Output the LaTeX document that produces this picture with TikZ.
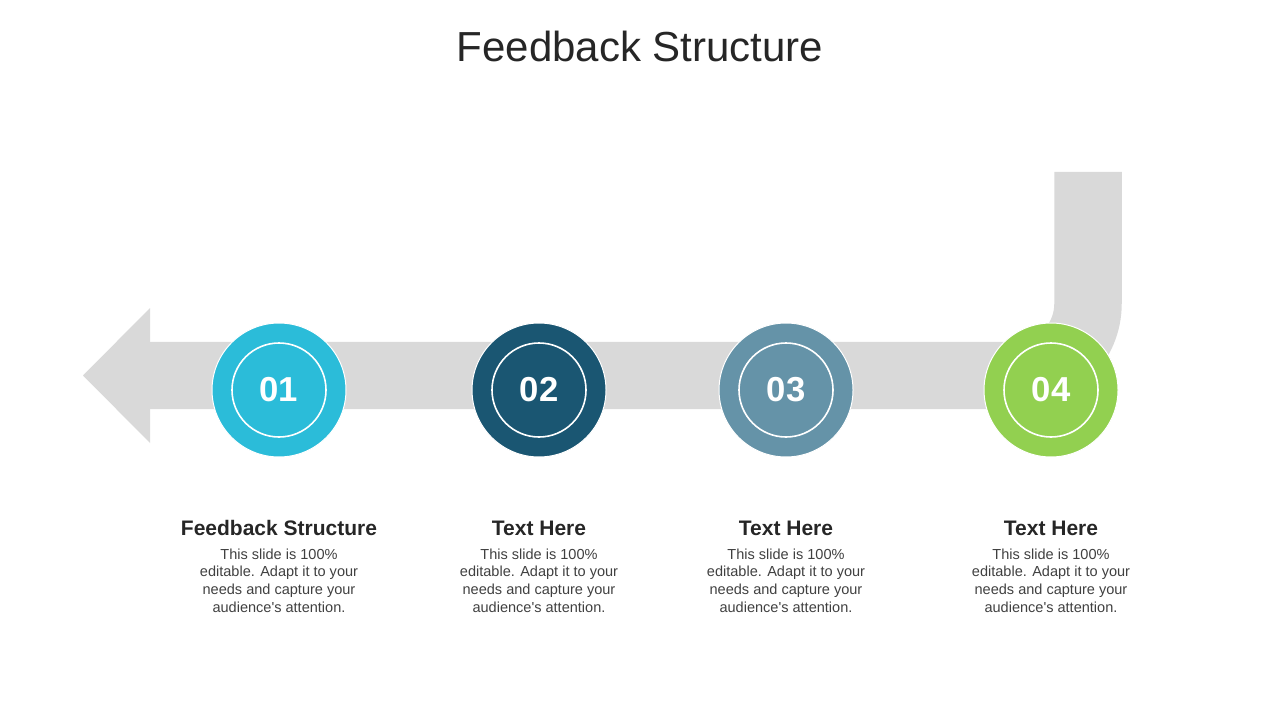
\documentclass[tikz,border=0pt]{standalone}
\usepackage{fontspec}
\setmainfont{Liberation Sans}
\usepackage{xcolor}
\usepackage{tikz}
\usetikzlibrary{calc}
\usetikzlibrary{positioning}

\definecolor{bandgray}{HTML}{D9D9D9}
\definecolor{headgray}{HTML}{262626}
\definecolor{bodygray}{HTML}{404040}
\definecolor{stepcyan}{HTML}{2BBCD9}
\definecolor{stepnavy}{HTML}{1A5672}
\definecolor{stepslate}{HTML}{6593A8}
\definecolor{steplime}{HTML}{92D050}

\begin{document}
\begin{tikzpicture}[x=0.75pt,y=-0.75pt,
	numcircle/.style={circle,minimum size=100.5pt,inner sep=0pt,draw=white,line width=0.75pt,text=white,font=\fontsize{26}{26}\selectfont\bfseries},
	numring/.style={circle,minimum size=70.5pt,inner sep=0pt,draw=white,line width=1.2pt},
	headtext/.style={text=headgray,font=\fontsize{15.75}{18}\selectfont\bfseries},
	bodytext/.style={text=bodygray,align=center,font=\fontsize{10.9}{13.3}\selectfont}]
	\useasboundingbox (0,0) rectangle (1280,720);
	\node[text=headgray,font=\fontsize{31.5}{36}\selectfont] (title) at (640,46) {Feedback Structure};
	\draw[bandgray,line width=50.6pt,rounded corners=54pt] (150,375.5) -- (1088,375.5) -- (1088,172);
	\fill[bandgray] (83,375.5) -- (150,308) -- (150,443) -- cycle;
	\node[numcircle,fill=stepcyan] (n1) at (279,390) {01};
	\node[numring] (r1) at (n1) {};
	\node[numcircle,fill=stepnavy] (n2) at (539,390) {02};
	\node[numring] (r2) at (n2) {};
	\node[numcircle,fill=stepslate] (n3) at (786,390) {03};
	\node[numring] (r3) at (n3) {};
	\node[numcircle,fill=steplime] (n4) at (1051,390) {04};
	\node[numring] (r4) at (n4) {};
	\node[headtext] (h1) at (279,528) {Feedback Structure};
	\node[bodytext] (b1) at (279,580.5) {This slide is 100\%\\editable. Adapt it to your\\needs and capture your\\audience\textquotesingle s attention.};
	\node[headtext] (h2) at (539,528) {Text Here};
	\node[bodytext] (b2) at (539,580.5) {This slide is 100\%\\editable. Adapt it to your\\needs and capture your\\audience\textquotesingle s attention.};
	\node[headtext] (h3) at (786,528) {Text Here};
	\node[bodytext] (b3) at (786,580.5) {This slide is 100\%\\editable. Adapt it to your\\needs and capture your\\audience\textquotesingle s attention.};
	\node[headtext] (h4) at (1051,528) {Text Here};
	\node[bodytext] (b4) at (1051,580.5) {This slide is 100\%\\editable. Adapt it to your\\needs and capture your\\audience\textquotesingle s attention.};
\end{tikzpicture}
\end{document}
